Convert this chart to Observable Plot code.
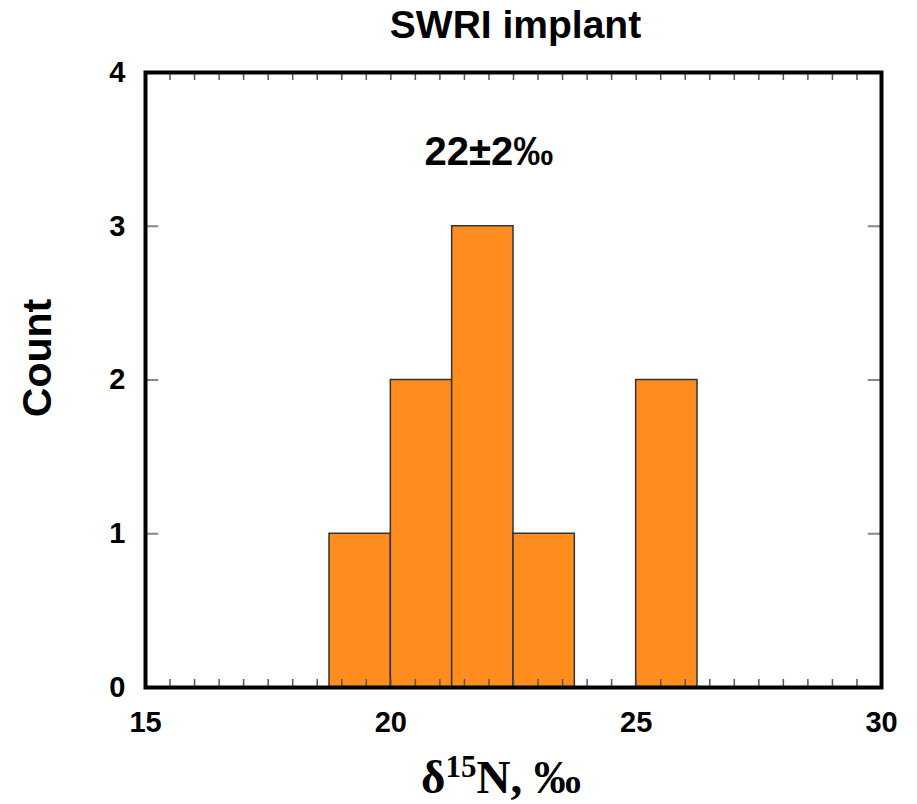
<!DOCTYPE html>
<html>
<head>
<meta charset="utf-8">
<script src="https://cdn.jsdelivr.net/npm/d3@7"></script>
<script src="https://cdn.jsdelivr.net/npm/@observablehq/plot@0.6"></script>
<style>
  html, body { margin: 0; padding: 0; background: white; }
</style>
</head>
<body>
<div id="chart"></div>
<script>
// Histogram bins
const binStart = [18.75, 20.0, 21.25, 22.5, 25.0];
const binEnd   = [20.0, 21.25, 22.5, 23.75, 26.25];
const counts   = [1, 2, 3, 1, 2];

// Axis ticks
const xTicks = [15, 20, 25, 30];
const yTicks = [0, 1, 2, 3, 4];
const yInnerTicks = [1, 2, 3];
const xMinorTicks = d3.range(15.5, 30, 0.5);

// Texts
const titleText = "SWRI implant";
const yLabel = "Count";
const annotation = [{x: 22, y: 3.48, text: "22±2‰"}];

const bins = binStart.map((s, i) => ({x1: s, x2: binEnd[i], count: counts[i]}));

const font = "'Liberation Sans', Arial, Helvetica, sans-serif";

const chart = Plot.plot({
  width: 917,
  height: 804,
  marginLeft: 145,
  marginRight: 36,
  marginTop: 72,
  marginBottom: 117,
  x: {domain: [15, 30], axis: null},
  y: {domain: [0, 4], axis: null},
  style: {fontFamily: font, fontWeight: "bold", fontSize: "29px", background: "white", color: "black"},
  marks: [
    Plot.rect(bins, {x1: "x1", x2: "x2", y1: 0, y2: "count", fill: "#ff8c1e", stroke: "#333", strokeWidth: 1.5}),
    Plot.ruleX(xMinorTicks, {x: d => d, y1: 0, y2: 0.052, stroke: "#555", strokeWidth: 1.5}),
    Plot.ruleX(xMinorTicks, {x: d => d, y1: 4, y2: 3.948, stroke: "#555", strokeWidth: 1.5}),
    Plot.ruleY(yInnerTicks, {y: d => d, x1: 15, x2: 15.27, stroke: "#888", strokeWidth: 2}),
    Plot.ruleY(yInnerTicks, {y: d => d, x1: 30, x2: 29.73, stroke: "#888", strokeWidth: 2}),
    Plot.frame({stroke: "black", strokeWidth: 4}),
    // tick labels
    Plot.text(xTicks, {x: d => d, text: d => String(d), frameAnchor: "bottom", lineAnchor: "top", textAnchor: "middle", dy: 24, fontSize: 29, fontWeight: "bold"}),
    Plot.text(yTicks, {y: d => d, text: d => String(d), frameAnchor: "left", lineAnchor: "middle", textAnchor: "end", dx: -20, fontSize: 29, fontWeight: "bold"}),
    Plot.text([titleText], {text: d => d, frameAnchor: "top", lineAnchor: "middle", textAnchor: "middle", dx: 2, dy: -47, fontSize: 39, fontWeight: "bold"}),
    Plot.text(annotation, {x: "x", y: "y", text: "text", fontSize: 40, fontWeight: "bold"}),
    Plot.text([yLabel], {text: d => d, frameAnchor: "left", textAnchor: "middle", lineAnchor: "middle", rotate: -90, dx: -108, dy: -22, fontSize: 41, fontWeight: "bold"})
  ]
});

const svg = d3.select(chart);

// x-axis label with superscript
const xl = svg.append("text")
  .attr("x", 501)
  .attr("y", 793)
  .attr("text-anchor", "middle")
  .attr("font-family", "'Liberation Serif', 'Times New Roman', serif")
  .attr("font-weight", "bold")
  .attr("font-size", 47)
  .attr("fill", "black");
xl.append("tspan").text("δ");
xl.append("tspan").attr("font-size", 31).attr("dy", -16).text("15");
xl.append("tspan").attr("dy", 16).text("N, ‰");

document.getElementById("chart").appendChild(chart);
</script>
</body>
</html>
